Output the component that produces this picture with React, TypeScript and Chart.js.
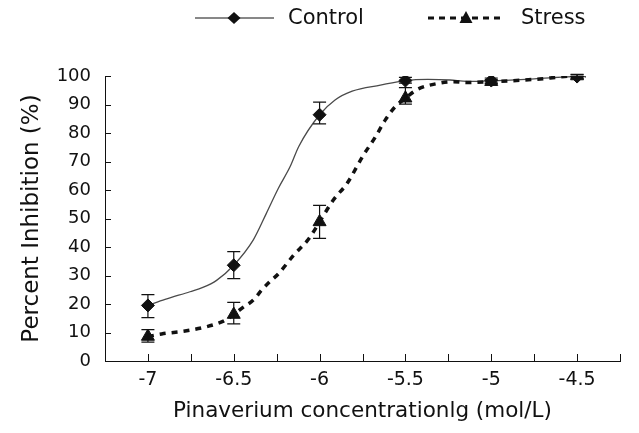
import React, { useEffect, useRef } from "react";
import { Chart, registerables } from "chart.js";

Chart.register(...registerables);

// ---- data ----
const doseX = [-7, -6.5, -6, -5.5, -5, -4.5];

const controlMean = [19.5, 33.6, 86.4, 98.4, 98.4, 99.8];
const controlLow = [15.2, 28.9, 83.2, 97.5, 97.6, 99.2];
const controlHigh = [23.3, 38.4, 90.8, 99.5, 99.3, 100.4];

const stressMean = [8.6, 16.3, 48.8, 92.2, 98.0, 100.0];
const stressLow = [6.6, 13.0, 43.0, 90.1, 97.3, 99.3];
const stressHigh = [11.0, 20.6, 54.6, 95.9, 98.8, 100.6];

// fitted curves
const controlFitX = [-7, -6.9, -6.755, -6.68, -6.6, -6.5, -6.386, -6.31, -6.24, -6.17, -6.122, -6.0, -5.91, -5.81, -5.646, -5.5, -5.37, -5.24, -5.14, -5.0, -4.75, -4.5, -4.45];
const controlFitY = [19.5, 21.6, 24.3, 25.8, 28.3, 33.6, 42.5, 51.8, 60.6, 68.4, 75.2, 86.4, 91.6, 94.7, 96.8, 98.4, 98.8, 98.6, 98.1, 98.3, 99.0, 99.8, 99.8];

const stressFitX = [-7, -6.92, -6.775, -6.66, -6.56, -6.5, -6.446, -6.386, -6.337, -6.29, -6.24, -6.15, -6.065, -6.0, -5.92, -5.84, -5.744, -5.676, -5.617, -5.56, -5.5, -5.43, -5.31, -5.22, -5.14, -5.0, -4.75, -4.5, -4.45];
const stressFitY = [8.6, 9.5, 10.6, 12.0, 14.0, 16.3, 18.8, 21.4, 24.9, 27.8, 30.6, 37.2, 42.7, 48.8, 56.5, 62.3, 72.3, 78.5, 84.6, 89.2, 92.2, 95.3, 97.4, 98.0, 97.7, 98.0, 98.8, 100.0, 100.0];

const seriesNames = ["Control", "Stress"];
const xTitle = "Pinaverium concentrationlg (mol/L)";
const yTitle = "Percent Inhibition (%)";
const xMin = -7.25;
const xMax = -4.25;
const xStep = 0.25;
const yMin = 0;
const yMax = 100;
const yStep = 10;

const FONT = "DejaVu Sans";
const INK = "#111111";

const toPts = (xs: number[], ys: number[]) => xs.map((x, i) => ({ x, y: ys[i] }));

const errorBars = {
  id: "errorBars",
  afterDatasetsDraw(chart: any) {
    const { ctx, scales } = chart;
    const xs = scales.x;
    const ys = scales.y;
    const groups = [
      { low: controlLow, high: controlHigh },
      { low: stressLow, high: stressHigh },
    ];
    ctx.save();
    ctx.strokeStyle = INK;
    ctx.lineWidth = 1.2;
    const cap = 6.5;
    groups.forEach((g) => {
      doseX.forEach((xv, i) => {
        const px = xs.getPixelForValue(xv);
        const y1 = ys.getPixelForValue(g.low[i]);
        const y2 = ys.getPixelForValue(g.high[i]);
        ctx.beginPath();
        ctx.moveTo(px, y1);
        ctx.lineTo(px, y2);
        ctx.moveTo(px - cap, y1);
        ctx.lineTo(px + cap, y1);
        ctx.moveTo(px - cap, y2);
        ctx.lineTo(px + cap, y2);
        ctx.stroke();
      });
    });
    ctx.restore();
  },
};

const inwardTicks = {
  id: "inwardTicks",
  afterDraw(chart: any) {
    const { ctx, chartArea, scales } = chart;
    ctx.save();
    ctx.strokeStyle = INK;
    ctx.lineWidth = 1;
    scales.y.ticks.forEach((t: any) => {
      const y = Math.round(scales.y.getPixelForValue(t.value)) + 0.5;
      ctx.beginPath();
      ctx.moveTo(chartArea.left, y);
      ctx.lineTo(chartArea.left + 6, y);
      ctx.stroke();
    });
    scales.x.ticks.forEach((t: any) => {
      const x = Math.round(scales.x.getPixelForValue(t.value)) + 0.5;
      ctx.beginPath();
      ctx.moveTo(x, chartArea.bottom);
      ctx.lineTo(x, chartArea.bottom - 7);
      ctx.stroke();
    });
    ctx.restore();
  },
};

const customLegend = {
  id: "customLegend",
  afterDraw(chart: any) {
    const { ctx } = chart;
    const y = 18;
    ctx.save();
    ctx.strokeStyle = INK;
    ctx.fillStyle = INK;
    // Control
    ctx.lineWidth = 1;
    ctx.beginPath();
    ctx.moveTo(195, y);
    ctx.lineTo(274, y);
    ctx.stroke();
    ctx.beginPath();
    ctx.moveTo(227.5, y);
    ctx.lineTo(234, y - 6);
    ctx.lineTo(240.5, y);
    ctx.lineTo(234, y + 6);
    ctx.closePath();
    ctx.fill();
    // Stress
    ctx.lineWidth = 3;
    ctx.setLineDash([6, 5]);
    ctx.beginPath();
    ctx.moveTo(428, y);
    ctx.lineTo(503, y);
    ctx.stroke();
    ctx.setLineDash([]);
    ctx.beginPath();
    ctx.moveTo(466, y - 7);
    ctx.lineTo(472.5, y + 5);
    ctx.lineTo(459.5, y + 5);
    ctx.closePath();
    ctx.fill();
    ctx.font = `21px "${FONT}"`;
    ctx.textBaseline = "middle";
    ctx.textAlign = "left";
    ctx.fillText(seriesNames[0], 288, y + 1);
    ctx.fillText(seriesNames[1], 521, y + 1);
    ctx.restore();
  },
};

export default function App() {
  const ref = useRef<HTMLCanvasElement | null>(null);

  useEffect(() => {
    if (!ref.current) return;
    const chart = new Chart(ref.current, {
      type: "scatter",
      data: {
        datasets: [
          {
            label: seriesNames[0] + " markers",
            data: toPts(doseX, controlMean),
            showLine: false,
            pointStyle: "rectRot",
            pointRadius: 6.5,
            pointBackgroundColor: INK,
            pointBorderColor: INK,
            pointBorderWidth: 1,
            order: 0,
          },
          {
            label: seriesNames[1] + " markers",
            data: toPts(doseX, stressMean),
            showLine: false,
            pointStyle: "triangle",
            pointRadius: 7.5,
            pointBackgroundColor: INK,
            pointBorderColor: INK,
            pointBorderWidth: 1,
            order: 0,
          },
          {
            label: seriesNames[0],
            data: toPts(controlFitX, controlFitY),
            showLine: true,
            pointRadius: 0,
            borderColor: "#4a4a4a",
            borderWidth: 1.3,
            cubicInterpolationMode: "monotone",
            order: 2,
          },
          {
            label: seriesNames[1],
            data: toPts(stressFitX, stressFitY),
            showLine: true,
            pointRadius: 0,
            borderColor: INK,
            borderWidth: 3.5,
            borderDash: [6, 6],
            cubicInterpolationMode: "monotone",
            order: 1,
          },
        ],
      },
      options: {
        animation: false,
        responsive: true,
        maintainAspectRatio: false,
        layout: { padding: { top: 76, right: 19, left: 0, bottom: 0 } },
        plugins: {
          legend: { display: false },
          tooltip: { enabled: false },
        },
        scales: {
          x: {
            type: "linear",
            min: xMin,
            max: xMax,
            afterFit: (s: any) => {
              s.height = 72;
            },
            ticks: {
              stepSize: xStep,
              autoSkip: false,
              maxRotation: 0,
              padding: 8,
              color: INK,
              font: { family: FONT, size: 19 },
              callback: (v: any) => {
                const n = Number(Number(v).toFixed(2));
                const dbl = n * 2;
                if (Math.abs(dbl - Math.round(dbl)) < 1e-6 && n <= -4.5 && n >= -7) return String(n);
                return "";
              },
            },
            grid: { display: true, drawOnChartArea: false, drawTicks: false },
            border: { display: true, color: INK, width: 1 },
            title: {
              display: true,
              text: xTitle,
              color: INK,
              font: { family: FONT, size: 21.5 },
              padding: { top: 0, bottom: 9 },
            },
          },
          y: {
            min: yMin,
            max: yMax,
            afterFit: (s: any) => {
              s.width = 105;
            },
            ticks: {
              stepSize: yStep,
              padding: 14,
              color: INK,
              font: { family: FONT, size: 18 },
            },
            grid: { display: true, drawOnChartArea: false, drawTicks: false },
            border: { display: true, color: INK, width: 1 },
            title: {
              display: true,
              text: yTitle,
              color: INK,
              font: { family: FONT, size: 23 },
              padding: { top: 18, bottom: 0 },
            },
          },
        },
      },
      plugins: [errorBars, inwardTicks, customLegend],
    });
    return () => chart.destroy();
  }, []);

  return (
    <div style={{ position: "absolute", left: 0, top: 0, width: 639, height: 433 }}>
      <canvas ref={ref} />
    </div>
  );
}
